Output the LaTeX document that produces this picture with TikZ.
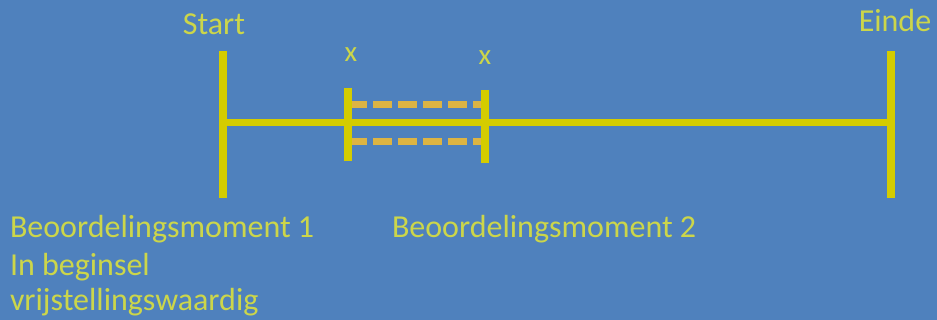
\documentclass[tikz,border=0pt]{standalone}
\usepackage{fontspec}
\setmainfont{Carlito}
\definecolor{bgblue}{HTML}{4F81BD}
\definecolor{lineyellow}{HTML}{D4CC00}
\definecolor{dashorange}{HTML}{DDB443}
\definecolor{txtyellow}{HTML}{CCD64A}
\begin{document}
\begin{tikzpicture}[x=1pt,y=-1pt,
  axis/.style={draw=lineyellow,line width=7pt},
  tick/.style={draw=lineyellow,line width=8pt},
  dashline/.style={draw=dashorange,line width=7pt,dash pattern=on 19pt off 6pt},
  lbl/.style={text=txtyellow,font=\fontsize{32}{36}\selectfont,inner sep=0pt,outer sep=0pt},
  xlbl/.style={text=txtyellow,font=\fontsize{29}{30}\selectfont,inner sep=0pt,outer sep=0pt}]
\fill[bgblue] (0,0) rectangle (937,320);
\useasboundingbox (0,0) rectangle (937,320);
% coordinates
\coordinate (s1) at (223,51);
\coordinate (s2) at (223,198);
\coordinate (e1) at (891,51);
\coordinate (e2) at (891,198);
\coordinate (h1) at (223,123);
\coordinate (h2) at (891,123);
\coordinate (a1) at (348,88);
\coordinate (a2) at (348,161);
\coordinate (b1) at (485,90);
\coordinate (b2) at (485,163);
\coordinate (da1) at (348,105);
\coordinate (da2) at (485,105);
\coordinate (db1) at (348,142);
\coordinate (db2) at (485,142);
% dashed lines
\draw[dashline] (da1) -- (da2);
\draw[dashline] (db1) -- (db2);
% axis
\draw[axis] (h1) -- (h2);
\draw[axis,line width=7.5pt] (s1) -- (s2);
\draw[axis,line width=7.5pt] (e1) -- (e2);
\draw[tick] (a1) -- (a2);
\draw[tick] (b1) -- (b2);
% labels
\node[lbl,anchor=base] (start) at (214,35) {Start};
\node[lbl,anchor=base] (einde) at (895,32) {Einde};
\node[xlbl,anchor=base] (x1) at (351,62) {x};
\node[xlbl,anchor=base] (x2) at (485,65) {x};
\node[lbl,anchor=base west] (bm1) at (10,238) {Beoordelingsmoment 1};
\node[lbl,anchor=base west] (ib) at (10,276) {In beginsel};
\node[lbl,anchor=base west] (vw) at (10,311) {vrijstellingswaardig};
\node[lbl,anchor=base west] (bm2) at (392,238) {Beoordelingsmoment 2};
\end{tikzpicture}
\end{document}
